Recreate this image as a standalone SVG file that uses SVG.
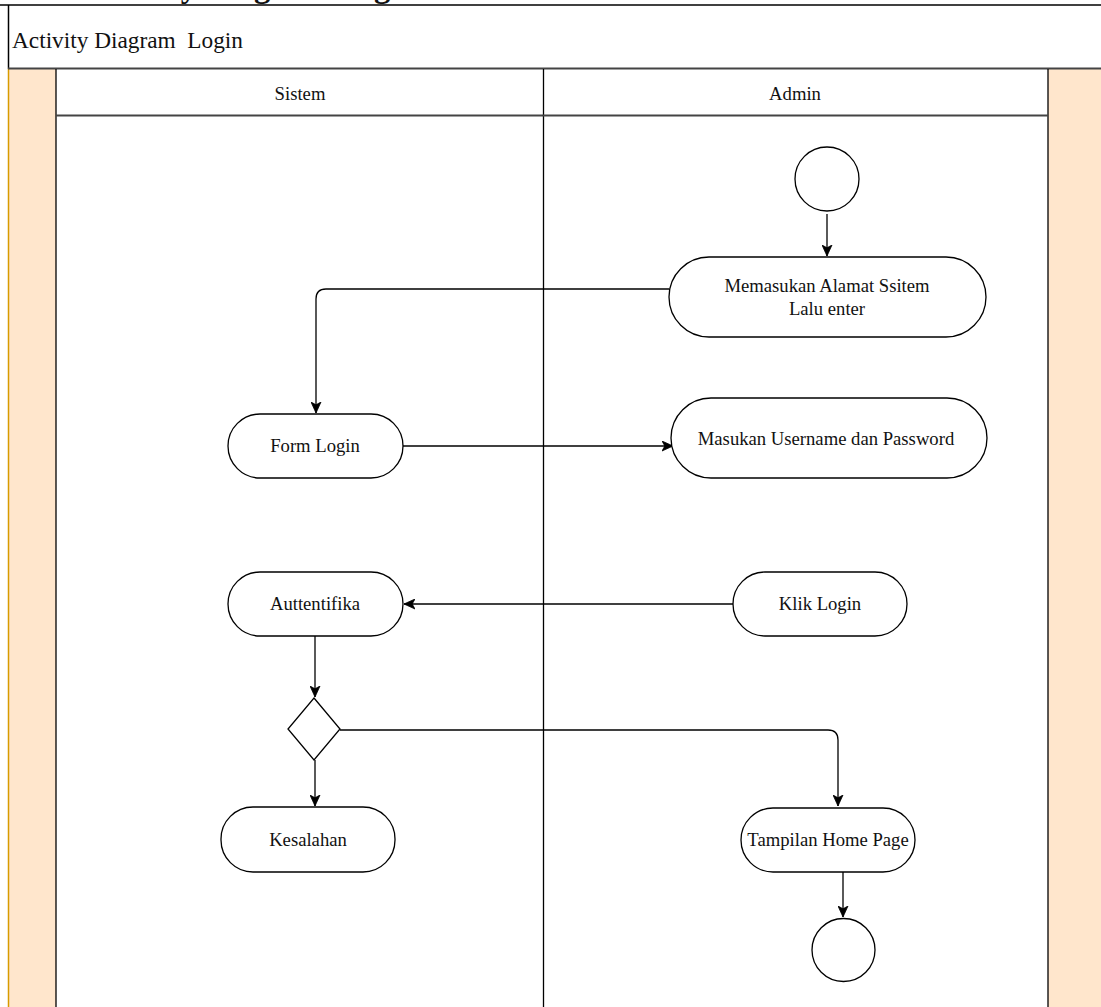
<svg xmlns="http://www.w3.org/2000/svg" width="1101" height="1007" viewBox="0 0 1101 1007">
  <style>
    .txt { font-family: "Liberation Serif", "Times New Roman", serif; fill: #111; }
    .label { font-size: 18.67px; text-anchor: middle; }
    .node { fill: #fff; stroke: #000; stroke-width: 1.3; }
    .edge { fill: none; stroke: #000; stroke-width: 1.3; }
    .lane { fill: none; stroke: #000; stroke-width: 1.3; }
    .side { fill: #ffe6cc; }
  </style>
  <defs>
    <marker id="arrow" markerWidth="13" markerHeight="11" refX="11" refY="5.5" orient="auto" markerUnits="userSpaceOnUse">
      <path d="M0,0.5 L11,5.5 L0,10.5 L2.8,5.5 z" fill="#000" stroke="#000" stroke-width="0.8"/>
    </marker>
  </defs>

  <rect x="0" y="0" width="1101" height="1007" fill="#fff"/>

  <!-- section heading above the pool (runs off the top edge) -->
  <text class="txt" x="87" y="-3" font-size="32.5" font-weight="bold">Activity Diagram Login</text>

  <!-- pool -->
  <g id="pool">
    <rect class="side" x="9" y="69" width="47" height="938"/>
    <rect class="side" x="1048" y="69" width="53" height="938"/>
    <line x1="8.5" y1="69" x2="8.5" y2="1007" stroke="#d79b00" stroke-width="1.5"/>
    <line x1="0" y1="5" x2="1101" y2="5" stroke="#000" stroke-width="1.5"/>
    <line x1="8.5" y1="5" x2="8.5" y2="69" stroke="#000" stroke-width="1.5"/>
    <line x1="8" y1="68.5" x2="1101" y2="68.5" stroke="#444" stroke-width="2"/>
    <text class="txt" x="12" y="48" font-size="23.3" xml:space="preserve">Activity Diagram  Login</text>
  </g>

  <!-- lanes -->
  <g id="lane-sistem">
    <line class="lane" x1="56" y1="69" x2="56" y2="1007" stroke="#444" stroke-width="2"/>
    <line x1="56" y1="115.5" x2="543" y2="115.5" stroke="#444" stroke-width="2"/>
    <text class="txt label" x="300" y="100">Sistem</text>
  </g>
  <g id="lane-admin">
    <line class="lane" x1="543.5" y1="69" x2="543.5" y2="1007"/>
    <line class="lane" x1="1048" y1="69" x2="1048" y2="1007" stroke="#444" stroke-width="2"/>
    <line x1="543" y1="115.5" x2="1048" y2="115.5" stroke="#444" stroke-width="2"/>
    <text class="txt label" x="795" y="100">Admin</text>
  </g>

  <!-- connectors -->
  <g id="connectors">
    <path class="edge" d="M827,214 L827,256" marker-end="url(#arrow)"/>
    <path class="edge" d="M669,289 L326,289 Q316,289 316,299 L316,413" marker-end="url(#arrow)"/>
    <path class="edge" d="M403,446 L673,446" marker-end="url(#arrow)"/>
    <path class="edge" d="M733,604 L404,604" marker-end="url(#arrow)"/>
    <path class="edge" d="M315,636 L315,697" marker-end="url(#arrow)"/>
    <path class="edge" d="M315,760 L315,806" marker-end="url(#arrow)"/>
    <path class="edge" d="M340,730 L828,730 Q838,730 838,740 L838,806" marker-end="url(#arrow)"/>
    <path class="edge" d="M843,872 L843,917" marker-end="url(#arrow)"/>
  </g>

  <!-- nodes -->
  <g id="start">
    <circle class="node" cx="827" cy="179" r="32"/>
  </g>
  <g id="memasukan-alamat">
    <rect class="node" x="669" y="257" width="317" height="80" rx="40" ry="40"/>
    <text class="txt label" x="827" y="292">Memasukan Alamat Ssitem</text>
    <text class="txt label" x="827" y="315">Lalu enter</text>
  </g>
  <g id="form-login">
    <rect class="node" x="228" y="414" width="175" height="64" rx="32" ry="32"/>
    <text class="txt label" x="315" y="452">Form Login</text>
  </g>
  <g id="masukan-username">
    <rect class="node" x="671" y="398" width="316" height="80" rx="40" ry="40"/>
    <text class="txt label" x="826" y="445">Masukan Username dan Password</text>
  </g>
  <g id="klik-login">
    <rect class="node" x="733" y="572" width="174" height="64" rx="32" ry="32"/>
    <text class="txt label" x="820" y="610">Klik Login</text>
  </g>
  <g id="auttentifika">
    <rect class="node" x="228" y="572" width="175" height="64" rx="32" ry="32"/>
    <text class="txt label" x="315" y="610">Auttentifika</text>
  </g>
  <g id="decision">
    <path class="node" d="M314,698 L340,729 L314,760 L288,729 Z"/>
  </g>
  <g id="kesalahan">
    <rect class="node" x="221" y="807" width="174" height="65" rx="32" ry="32"/>
    <text class="txt label" x="308" y="846">Kesalahan</text>
  </g>
  <g id="tampilan-home">
    <rect class="node" x="741" y="808" width="174" height="64" rx="32" ry="32"/>
    <text class="txt label" x="828" y="846">Tampilan Home Page</text>
  </g>
  <g id="end">
    <circle class="node" cx="843.5" cy="950" r="31.5"/>
  </g>
</svg>
